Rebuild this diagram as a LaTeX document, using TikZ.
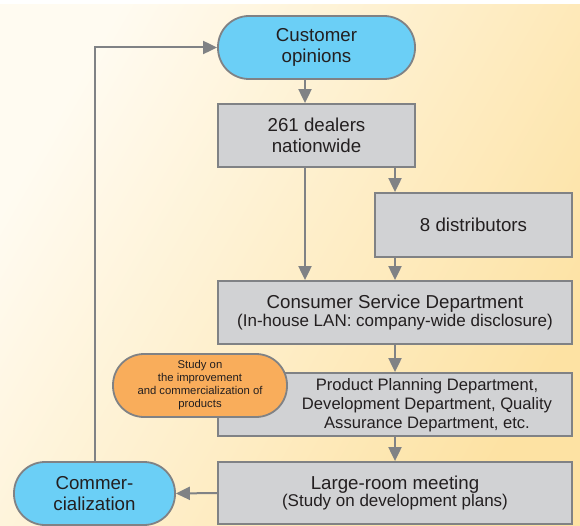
\documentclass[tikz,border=0pt]{standalone}
\usepackage{fontspec}
\setmainfont{Liberation Sans}
\usetikzlibrary{arrows.meta,calc}
\definecolor{bluef}{HTML}{6BCFF6}
\definecolor{orangef}{HTML}{F9AD5B}
\definecolor{grayf}{HTML}{D1D2D4}
\definecolor{edgec}{HTML}{808285}
\definecolor{txt}{HTML}{231F20}
\definecolor{bgA}{HTML}{FFFBF1}
\definecolor{bgB}{HTML}{FDE2A3}
\tikzset{
  pill/.style={draw=edgec, line width=1.8pt, rounded corners=31pt, align=center, text=txt, inner sep=0pt},
  box/.style={draw=edgec, line width=1.8pt, fill=grayf, align=center, text=txt, inner sep=0pt},
  arr/.style={draw=edgec, line width=2pt, -{Triangle[length=14pt,width=13pt]}},
  big/.style={font=\fontsize{18.7}{20.5}\selectfont},
}
\begin{document}
\begin{tikzpicture}[x=1pt,y=-1pt]
\useasboundingbox (0,0) rectangle (580,526);
\fill[white] (0,0) rectangle (580,526);
\shade[left color=bgA, right color=bgB, shading angle=60] (0,5) rectangle (580,526);

\coordinate (xa) at (305,0);
\coordinate (xb) at (395,0);

\node[pill, fill=bluef, minimum width=197pt, minimum height=63pt, big] (cust) at (316.5,47.5) {Customer\\opinions};
\node[box, minimum width=197pt, minimum height=63pt, big] (deal) at (316.5,135.5) {261 dealers\\nationwide};
\node[box, minimum width=197pt, minimum height=64pt, big] (dist) at (473.5,225) {8 distributors};
\node[box, minimum width=354pt, minimum height=63pt] (cons) at (395,312.5)
  {\fontsize{18.7}{20}\selectfont Consumer Service Department\\\fontsize{17}{20}\selectfont (In-house LAN: company-wide disclosure)};
\node[box, minimum width=354pt, minimum height=63pt] (prod) at (395,404.5) {};
\node[text=txt, align=center, font=\fontsize{16.6}{19}\selectfont, inner sep=0pt] (prodtxt) at (427,405)
  {Product Planning Department,\\Development Department, Quality\\Assurance Department, etc.};
\node[pill, fill=orangef, minimum width=174pt, minimum height=63pt, font=\fontsize{11.3}{13}\selectfont] (study) at (200,385.5)
  {Study on\\the improvement\\and commercialization of\\products};
\node[box, minimum width=354pt, minimum height=62pt] (large) at (395,493)
  {\fontsize{18.7}{20.5}\selectfont Large-room meeting\\\fontsize{17}{20.5}\selectfont (Study on development plans)};
\node[pill, fill=bluef, minimum width=161pt, minimum height=63pt, big] (comm) at (94.5,493.5) {Commer-\\cialization};

\draw[arr] (cust.south -| xa) -- (deal.north -| xa);
\draw[arr] (deal.south -| xa) -- (cons.north -| xa);
\draw[arr] (deal.south -| xb) -- (dist.north -| xb);
\draw[arr] (dist.south -| xb) -- (cons.north -| xb);
\draw[arr] (cons.south -| xb) -- (prod.north -| xb);
\draw[arr] (prod.south -| xb) -- (large.north -| xb);
\draw[arr] (large.west) -- (comm.east);
\draw[arr] (comm.north) |- (cust.west);
\end{tikzpicture}
\end{document}
